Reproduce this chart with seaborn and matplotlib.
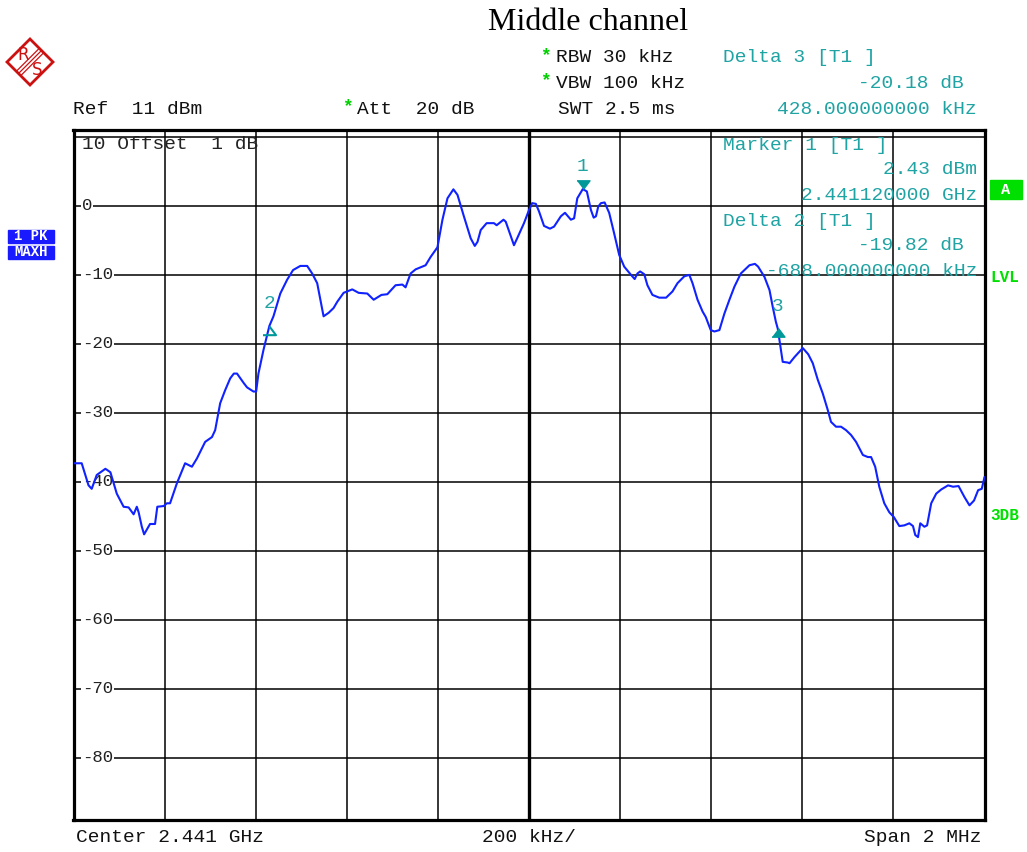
import numpy as np
import pandas as pd
import matplotlib
matplotlib.use("Agg")
import matplotlib.pyplot as plt
from matplotlib.patches import Polygon, Rectangle
from matplotlib.lines import Line2D
import matplotlib.transforms as mtransforms
import seaborn as sns

# trace: offset from 2.441 GHz (kHz) and level (dBm)
freq_khz = [-1000, -982, -967, -960, -949, -930, -919, -905, -890, -879,
            -868, -861, -857, -850, -845, -832, -821, -816, -802, -795,
            -788, -773, -755, -740, -729, -711, -696, -689, -678, -667,
            -656, -648, -641, -626, -619, -605, -599, -594, -583, -570,
            -561, -546, -531, -518, -502, -487, -476, -465, -451, -440,
            -429, -421, -407, -388, -374, -355, -341, -324, -311, -293,
            -278, -271, -260, -249, -227, -216, -201, -190, -179, -166,
            -157, -143, -128, -119, -113, -106, -93, -77, -71, -56,
            -51, -40, -33, -26, -11, 0, 7, 15, 22, 33,
            46, 55, 70, 79, 92, 99, 106, 118, 127, 136,
            142, 147, 152, 158, 166, 176, 187, 198, 209, 224,
            232, 238, 244, 253, 260, 271, 286, 301, 315, 326,
            341, 352, 359, 370, 381, 388, 399, 407, 418, 429,
            440, 451, 465, 484, 496, 503, 517, 528, 535, 542,
            546, 552, 557, 568, 572, 583, 594, 601, 613, 623,
            634, 645, 656, 663, 674, 685, 696, 707, 718, 733,
            744, 751, 760, 769, 780, 791, 801, 813, 824, 835,
            843, 848, 854, 859, 868, 874, 883, 894, 905, 920,
            931, 943, 956, 967, 977, 986, 994, 1000]
level_dbm = [-37.3, -37.3, -40.5, -41.0, -39.0, -38.1, -38.6, -41.7, -43.6, -43.7,
             -44.7, -43.6, -44.4, -46.5, -47.6, -46.1, -46.1, -43.6, -43.5, -43.1,
             -43.1, -40.2, -37.3, -37.8, -36.6, -34.2, -33.5, -32.5, -28.6, -26.7,
             -25.0, -24.3, -24.3, -25.7, -26.3, -26.9, -26.9, -24.3, -20.9, -17.4,
             -16.0, -12.7, -10.7, -9.3, -8.7, -8.7, -9.8, -11.2, -16.0, -15.5,
             -14.8, -13.9, -12.6, -12.1, -12.6, -12.7, -13.6, -12.9, -12.8, -11.5,
             -11.4, -11.8, -9.8, -9.2, -8.6, -7.4, -6.0, -2.0, 1.1, 2.4,
             1.6, -1.5, -4.7, -5.8, -5.2, -3.5, -2.5, -2.5, -2.8, -2.0,
             -2.3, -4.4, -5.7, -4.7, -2.5, -0.6, 0.4, 0.3, -0.8, -2.9,
             -3.3, -3.0, -1.5, -1.0, -2.0, -1.8, 1.1, 2.43, 2.1, -0.6,
             -1.7, -1.5, -0.1, 0.4, 0.5, -1.0, -4.0, -7.1, -8.8, -10.0,
             -10.6, -9.8, -9.5, -9.9, -11.5, -12.9, -13.3, -13.3, -12.4, -11.2,
             -10.2, -10.0, -11.2, -13.6, -15.3, -16.1, -18.0, -18.2, -18.0, -15.6,
             -13.6, -11.7, -9.8, -8.6, -8.4, -8.8, -10.3, -12.2, -14.6, -16.8,
             -17.75, -20.4, -22.6, -22.7, -22.8, -21.9, -21.1, -20.6, -21.5, -22.8,
             -25.2, -27.2, -29.6, -31.3, -32.0, -32.0, -32.5, -33.2, -34.2, -36.1,
             -36.4, -36.4, -37.8, -40.7, -43.1, -44.4, -45.1, -46.4, -46.3, -46.0,
             -46.4, -47.7, -48.0, -46.0, -46.5, -46.3, -43.1, -41.7, -41.1, -40.5,
             -40.7, -40.6, -42.2, -43.4, -42.7, -41.2, -41.0, -39.3]

# markers: name, frequency offset (kHz), level (dBm)
marker_names = ["1", "2", "3"]
marker_khz = [118, -570, 546]
marker_dbm = [2.43, -17.39, -17.75]

y_ticks = [10, 0, -10, -20, -30, -40, -50, -60, -70, -80]
x_ticks = [-800, -600, -400, -200, 0, 200, 400, 600, 800]

W, H = 1027, 852
BLUE = "#0f22ff"
TEAL = "#1fa3a3"
MARK = "#00999a"
GREEN = "#00d000"
MONO = ["Liberation Mono", "DejaVu Sans Mono"]
FS = 14

sns.set_style("white")
plt.rcParams["font.family"] = MONO


def fx(x):
    return x / W


def fy(y):
    return 1 - y / H


fig = plt.figure(figsize=(W / 100, H / 100), dpi=100)
ax = fig.add_axes([fx(73.5), fy(820), 911 / W, 690 / H])

df = pd.DataFrame({"freq_khz": freq_khz, "level_dbm": level_dbm})
sns.lineplot(data=df, x="freq_khz", y="level_dbm", ax=ax, color=BLUE,
             linewidth=1.5, zorder=4)

ax.set_xlim(-1000, 1000)
ax.set_ylim(-89, 11)
ax.set_xticks(x_ticks)
ax.set_yticks(y_ticks)
ax.grid(True, color="black", linewidth=1.1)
ax.set_axisbelow(True)
ax.axvline(0, color="black", linewidth=2.4, zorder=1)
ax.tick_params(length=0, labelleft=False, labelbottom=False)
ax.set_xlabel("")
ax.set_ylabel("")
for sp in ax.spines.values():
    sp.set_color("black")
    sp.set_linewidth(2.3)

# level labels inside the grid
trans = mtransforms.blended_transform_factory(ax.transAxes, ax.transData)
for v in y_ticks[1:]:
    ax.text(0.0093, v, str(v), transform=trans, ha="left", va="center",
            fontsize=12.5, color="#222222", zorder=3,
            bbox=dict(facecolor="white", edgecolor="none", pad=0.5))
ax.text(0.0093, 8.9, "10 Offset  1 dB", transform=trans, ha="left",
        va="center", fontsize=FS, color="#222222", zorder=3)

# markers
down_tri = [(-0.75, 1), (0.75, 1), (0, 0)]
up_tri = [(-0.75, -1), (0.75, -1), (0, 0)]
ax.plot(marker_khz[0], marker_dbm[0], marker=down_tri, ms=12.5,
        color=MARK, linestyle="none", zorder=5)
ax.plot(marker_khz[1], marker_dbm[1], marker=up_tri, ms=12.5,
        markerfacecolor="none", markeredgecolor=MARK, markeredgewidth=1.5,
        linestyle="none", zorder=5)
ax.plot(marker_khz[2], marker_dbm[2], marker=up_tri, ms=12.5,
        color=MARK, linestyle="none", zorder=5)
for name, mx, my in zip(marker_names, marker_khz, marker_dbm):
    ax.annotate(name, (mx, my), xytext=(0, 16), textcoords="offset points",
                ha="center", va="center", fontsize=FS, color=TEAL, zorder=6)

# marker readout inside the screen
ax_txt = [
    (723, 145, "Marker 1 [T1 ]", "left"),
    (977, 170, "2.43 dBm", "right"),
    (977, 196, "2.441120000 GHz", "right"),
    (723, 221, "Delta 2 [T1 ]", "left"),
    (964, 246, "-19.82 dB", "right"),
    (977, 272, "-688.000000000 kHz", "right"),
]
for x, y, s, ha in ax_txt:
    fig.text(fx(x), fy(y), s, ha=ha, va="center", fontsize=FS, color=TEAL,
             zorder=2)

# header
fig.text(fx(588), fy(22), "Middle channel", ha="center", va="center",
         fontsize=23, family=["Liberation Serif", "DejaVu Serif"], color="black")
hdr = [
    (556, 58, "RBW 30 kHz", "left", "#111111"),
    (556, 83, "VBW 100 kHz", "left", "#111111"),
    (558, 109, "SWT 2.5 ms", "left", "#111111"),
    (73, 109, "Ref  11 dBm", "left", "#111111"),
    (357, 109, "Att  20 dB", "left", "#111111"),
    (723, 58, "Delta 3 [T1 ]", "left", TEAL),
    (964, 83, "-20.18 dB", "right", TEAL),
    (977, 109, "428.000000000 kHz", "right", TEAL),
]
for x, y, s, ha, c in hdr:
    fig.text(fx(x), fy(y), s, ha=ha, va="center", fontsize=FS, color=c)
for x, y in [(546, 56), (546, 81), (348, 107)]:
    fig.text(fx(x), fy(y), "*", ha="center", va="center", fontsize=13,
             color=GREEN, fontweight="bold")

# footer
fig.text(fx(76), fy(838), "Center 2.441 GHz", ha="left", va="center",
         fontsize=FS, color="#111111")
fig.text(fx(529), fy(838), "200 kHz/", ha="center", va="center",
         fontsize=FS, color="#111111")
fig.text(fx(982), fy(838), "Span 2 MHz", ha="right", va="center",
         fontsize=FS, color="#111111")

# side flags
for y0, s in [(230, "1 PK"), (246, "MAXH")]:
    fig.patches.append(Rectangle((fx(8), fy(y0 + 13)), 46 / W, 13 / H,
                                 transform=fig.transFigure, color="#1a1aff",
                                 zorder=1))
    fig.text(fx(31), fy(y0 + 6.5), s, ha="center", va="center", fontsize=10,
             color="white", fontweight="bold")
fig.patches.append(Rectangle((fx(990), fy(199)), 32 / W, 19 / H,
                             transform=fig.transFigure, color="#00e000"))
fig.text(fx(1006), fy(189.5), "A", ha="center", va="center", fontsize=11,
         color="white", fontweight="bold")
fig.text(fx(990), fy(277), "LVL", ha="left", va="center", fontsize=11.5,
         color="#00e000", fontweight="bold")
fig.text(fx(990), fy(516), "3DB", ha="left", va="center", fontsize=11.5,
         color="#00e000", fontweight="bold")

# R&S logo
RED = "#cc1111"
diamond = [(fx(30), fy(39)), (fx(53), fy(62)), (fx(30), fy(85)), (fx(7), fy(62))]
fig.patches.append(Polygon(diamond, closed=True, fill=False, edgecolor=RED,
                           linewidth=2, transform=fig.transFigure))
for d in (-2.2, 0, 2.2):
    fig.lines.append(Line2D([fx(41.5 + d), fx(18.5 + d)],
                            [fy(50.5 + d), fy(73.5 + d)], color=RED,
                            linewidth=0.9, transform=fig.transFigure))
fig.text(fx(23), fy(55), "R", ha="center", va="center", fontsize=12,
         color=RED, family=["DejaVu Sans"])
fig.text(fx(37), fy(70), "S", ha="center", va="center", fontsize=12,
         color=RED, family=["DejaVu Sans"])

fig.savefig("out.png", dpi=100, facecolor="white")
